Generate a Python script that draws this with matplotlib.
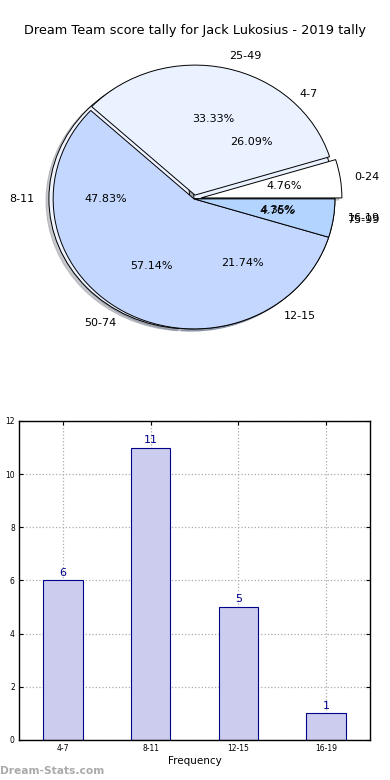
import matplotlib
matplotlib.use("Agg")
import matplotlib.pyplot as plt

TITLE = "Dream Team score tally for Jack Lukosius - 2019 tally"

# score ranges (frequency of each tally band)
tally_labels = ["4-7", "8-11", "12-15", "16-19"]
tally_counts = [6, 11, 5, 1]

# scores in 25-point bands
score_labels = ["0-24", "25-49", "50-74", "75-99"]
score_counts = [1, 7, 12, 1]

tally_colors = ["#eaf1ff", "#eef3ff", "#c4d8ff", "#b3d4ff"]
score_colors = ["#ffffff", "#eaf1ff", "#c4d8ff", "#b3d4ff"]

fig = plt.figure(figsize=(3.9, 7.8), dpi=100)

# --- pie (two pies drawn on top of each other, not equal aspect) ---
shadow = dict(ox=-0.015, oy=-0.012, shade=0.4)
ax1 = fig.add_axes([0.064, 0.545, 0.867, 0.4])
ax1.pie(tally_counts, labels=tally_labels, colors=tally_colors,
        autopct="%.2f%%", shadow=shadow, startangle=0,
        explode=[0.0, 0.03, 0.0, 0.0],
        wedgeprops=dict(edgecolor="black", linewidth=0.7),
        textprops=dict(fontsize=8))
ax1.pie(score_counts, labels=score_labels, colors=score_colors,
        autopct="%.2f%%", shadow=shadow, startangle=0,
        explode=[0.05, 0.03, 0.0, 0.0],
        wedgeprops=dict(edgecolor="black", linewidth=0.7),
        textprops=dict(fontsize=8))
ax1.set_aspect("auto")
ax1.set_xlim(-1.2, 1.2)
ax1.set_ylim(-1.2, 1.2)
fig.text(0.5, 0.961, TITLE, ha="center", va="center", fontsize=9.3)

# --- bar chart ---
ax2 = fig.add_axes([0.0487, 0.0513, 0.9, 0.409])
xpos = list(range(len(tally_labels)))
bars = ax2.bar(xpos, tally_counts, width=0.45, color="#ccccee",
               edgecolor="#00008b", linewidth=0.8, zorder=2)
for b, v in zip(bars, tally_counts):
    ax2.text(b.get_x() + b.get_width() / 2, v + 0.1, str(v),
             ha="center", va="bottom", color="#00008b", fontsize=8)
ax2.set_xlim(-0.5, 3.5)
ax2.set_ylim(0, 12)
ax2.set_xticks(xpos)
ax2.set_xticklabels(tally_labels)
ax2.set_yticks(range(0, 13, 2))
ax2.tick_params(labelsize=5.5, direction="in", top=True, right=True,
                length=3, pad=3)
ax2.grid(True, linestyle=":", color="#aaaaaa", linewidth=0.9, zorder=0)
ax2.set_xlabel("Frequency", fontsize=7.5, labelpad=2)
ax2.set_ylabel("Stat Interval", fontsize=7.5)
ax2.yaxis.set_label_coords(-0.06, 0.5)
for s in ax2.spines.values():
    s.set_linewidth(1.0)

fig.text(0.0, 0.012, "Dream-Stats.com", ha="left", va="center",
         fontsize=7.7, color="#aaaaaa", fontweight="bold")

fig.savefig("out.png", dpi=100)
